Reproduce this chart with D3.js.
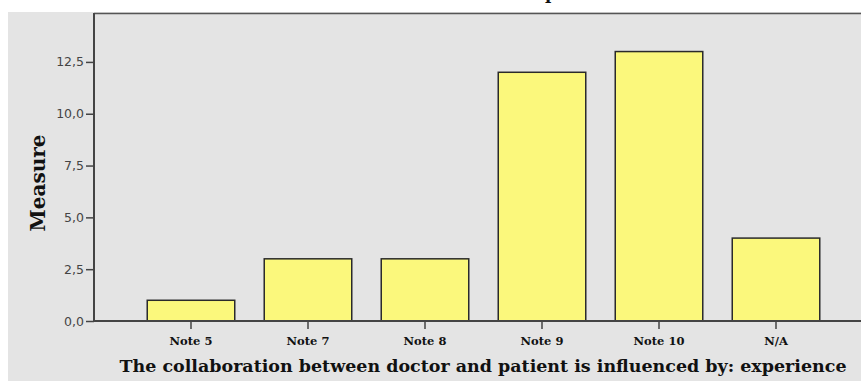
<!DOCTYPE html>
<html>
<head>
<meta charset="utf-8">
<script src="https://cdn.jsdelivr.net/npm/d3@7"></script>
<style>
  html, body { margin: 0; padding: 0; background: #fff; overflow: hidden; }
</style>
</head>
<body>
<script>
const width = 861;
const height = 381;

// data
const categories = ["Note 5", "Note 7", "Note 8", "Note 9", "Note 10", "N/A"];
const counts = [1, 3, 3, 12, 13, 4];
const yTicks = [0, 2.5, 5, 7.5, 10, 12.5];

const plotLeft = 94, plotTop = 13, plotBottom = 321;

const svg = d3.create("svg")
    .attr("width", width)
    .attr("height", height);

// outer grey panel
svg.append("rect")
    .attr("x", 8).attr("y", 12)
    .attr("width", width).attr("height", height)
    .attr("fill", "#e4e4e4");

// title, mostly cut off by the top edge (only the descender of "p" shows)
svg.append("text")
    .attr("x", 524).attr("y", -1)
    .attr("font-family", "DejaVu Serif")
    .attr("font-weight", "bold")
    .attr("font-size", 17)
    .attr("fill", "#111")
    .text("experience");

const x = d3.scaleBand()
    .domain(categories)
    .range([plotLeft, 873])
    .paddingInner(0.252)
    .paddingOuter(0.455);

const y = d3.scaleLinear()
    .domain([0, 14.86])
    .range([plotBottom, plotTop]);

// top frame line
svg.append("line")
    .attr("x1", plotLeft).attr("x2", width)
    .attr("y1", plotTop + 0.5).attr("y2", plotTop + 0.5)
    .attr("stroke", "#555").attr("stroke-width", 1.5);

// bars
svg.append("g")
    .selectAll("rect")
    .data(categories)
    .join("rect")
    .attr("x", d => x(d))
    .attr("y", (d, i) => y(counts[i]))
    .attr("width", x.bandwidth())
    .attr("height", (d, i) => y(0) - y(counts[i]))
    .attr("fill", "#fbf87c")
    .attr("stroke", "#2a2a2a")
    .attr("stroke-width", 1.5);

// y axis
const yAxis = svg.append("g")
    .attr("transform", `translate(${plotLeft},0)`)
    .call(d3.axisLeft(y)
        .tickValues(yTicks)
        .tickSize(8)
        .tickPadding(2)
        .tickFormat(d => d3.format(".1f")(d).replace(".", ",")));
yAxis.select(".domain").remove();
yAxis.append("line")
    .attr("x1", 0).attr("x2", 0)
    .attr("y1", plotTop).attr("y2", plotBottom)
    .attr("stroke", "#444").attr("stroke-width", 2);
yAxis.selectAll(".tick line").attr("stroke", "#444").attr("stroke-width", 1.5);
yAxis.selectAll(".tick text")
    .attr("font-family", "DejaVu Sans, sans-serif")
    .attr("font-size", 12.5)
    .attr("fill", "#444");

// x axis
const xAxis = svg.append("g")
    .attr("transform", `translate(0,${plotBottom})`)
    .call(d3.axisBottom(x).tickSize(8).tickPadding(8));
xAxis.select(".domain").remove();
xAxis.append("line")
    .attr("x1", plotLeft).attr("x2", width)
    .attr("y1", 0).attr("y2", 0)
    .attr("stroke", "#444").attr("stroke-width", 2);
xAxis.selectAll(".tick line").attr("stroke", "#444").attr("stroke-width", 1.5);
xAxis.selectAll(".tick text")
    .attr("font-family", "DejaVu Serif")
    .attr("font-weight", "bold")
    .attr("font-size", 11.5)
    .attr("fill", "#111");

// axis titles
svg.append("text")
    .attr("x", 483).attr("y", 372)
    .attr("text-anchor", "middle")
    .attr("font-family", "DejaVu Serif")
    .attr("font-weight", "bold")
    .attr("font-size", 16)
    .attr("textLength", 727)
    .attr("lengthAdjust", "spacingAndGlyphs")
    .attr("fill", "#111")
    .text("The collaboration between doctor and patient is influenced by: experience");

svg.append("text")
    .attr("transform", "translate(45,183) rotate(-90)")
    .attr("text-anchor", "middle")
    .attr("font-family", "DejaVu Serif")
    .attr("font-weight", "bold")
    .attr("font-size", 20)
    .attr("fill", "#111")
    .text("Measure");

document.body.appendChild(svg.node());
</script>
</body>
</html>
